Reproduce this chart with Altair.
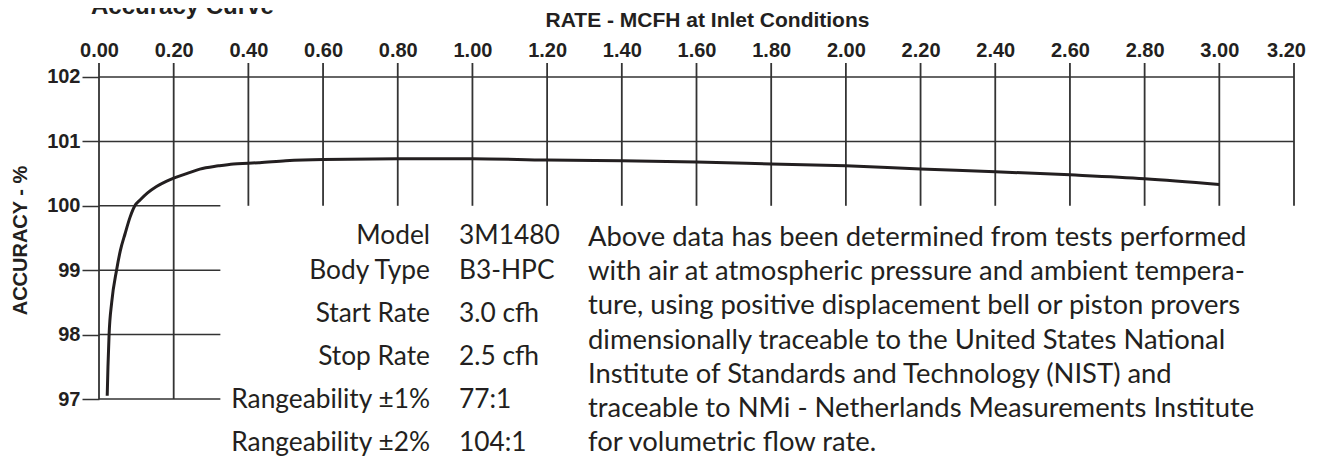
import altair as alt
import pandas as pd

# ---------------- data ----------------
X_TICKS = [0.00, 0.20, 0.40, 0.60, 0.80, 1.00, 1.20, 1.40, 1.60,
           1.80, 2.00, 2.20, 2.40, 2.60, 2.80, 3.00, 3.20]
Y_TICKS = [97, 98, 99, 100, 101, 102]

RATE = [0.022, 0.024, 0.027, 0.034, 0.047, 0.057, 0.070, 0.083, 0.096,
        0.110, 0.130, 0.154, 0.180, 0.200, 0.240, 0.270, 0.320, 0.360,
        0.400, 0.430, 0.500, 0.600, 0.800, 1.000, 1.200, 1.400, 1.600,
        1.800, 2.000, 2.200, 2.400, 2.600, 2.800, 3.000]
ACCURACY = [97.05, 97.50, 98.00, 98.50, 99.00, 99.30, 99.57, 99.82, 100.00,
            100.09, 100.20, 100.30, 100.38, 100.43, 100.51, 100.57, 100.62, 100.65,
            100.66, 100.67, 100.70, 100.72, 100.73, 100.73, 100.71, 100.70, 100.68,
            100.65, 100.62, 100.57, 100.53, 100.48, 100.42, 100.33]

SPEC_LABELS = ["Model", "Body Type", "Start Rate", "Stop Rate",
               "Rangeability ±1%", "Rangeability ±2%"]
SPEC_VALUES = ["3M1480", "B3-HPC", "3.0 cfh", "2.5 cfh", "77:1", "104:1"]
NOTE_LINES = [
    "Above data has been determined from tests performed",
    "with air at atmospheric pressure and ambient tempera-",
    "ture, using positive displacement bell or piston provers",
    "dimensionally traceable to the United States National",
    "Institute of Standards and Technology (NIST) and",
    "traceable to NMi - Netherlands Measurements Institute",
    "for volumetric flow rate.",
]
TITLE = "Accuracy Curve"
X_TITLE = "RATE - MCFH at Inlet Conditions"
Y_TITLE = "ACCURACY - %"

# ---------------- layout / style ----------------
INK = "#231f20"
GRID = "#333333"
BOLD_FONT = "Liberation Sans"
BODY_FONT = "Lato"
W, H = 1195, 336
Y_TOP = 102.217            # grid verticals rise a little above the 102 line
SHORT_X = 0.325            # where the lower horizontal lines stop
SPEC_Y = [173, 208, 251, 294, 337, 380]
NOTE_Y0, NOTE_DY = 175, 34.2
LABEL_RIGHT_X, VALUE_LEFT_X, NOTE_LEFT_X = 331, 360, 489
SPEC_SIZE = 26.3
NOTE_SIZE = 27.4

xscale = alt.Scale(domain=[0, 3.2], nice=False, zero=False)
yscale = alt.Scale(domain=[97, Y_TOP], nice=False, zero=False)

X_AXIS = alt.Axis(orient="top", values=X_TICKS, format=".2f", grid=False,
                  domain=False, ticks=False, labelPadding=3,
                  labelFont=BOLD_FONT, labelFontWeight="bold", labelFontSize=20,
                  labelColor=INK,
                  labelOffset=alt.condition("datum.value > 3.1",
                                            alt.value(-8), alt.value(0)),
                  title=X_TITLE, titleFont=BOLD_FONT,
                  titleFontWeight="bold", titleFontSize=21, titleColor=INK,
                  titleX=608, titleY=-37, titleAlign="center",
                  titleBaseline="alphabetic", labelFlush=False, labelOverlap=False)
Y_AXIS = alt.Axis(orient="left", values=Y_TICKS, format="d", grid=False,
                  domain=False, ticks=True, tickSize=17, tickColor=GRID,
                  tickWidth=1.5, labelPadding=2,
                  labelFont=BOLD_FONT, labelFontWeight="bold", labelFontSize=20,
                  labelColor=INK, title=Y_TITLE, titleFont=BOLD_FONT,
                  titleFontWeight="bold", titleFontSize=20, titleColor=INK,
                  titleX=-79, titleY=177, titleAngle=270, titleAlign="center",
                  titleBaseline="middle", labelFlush=False, labelOverlap=False)

# vertical grid lines (from tick list)
vdf = pd.DataFrame({"v": X_TICKS,
                    "bottom": [97 if t <= 0.2 else 100 for t in X_TICKS]})
vrules = alt.Chart(vdf).mark_rule(color=GRID, strokeWidth=1.8).encode(
    x=alt.X("v:Q", scale=xscale, axis=X_AXIS),
    y=alt.Y("bottom:Q", scale=yscale, axis=Y_AXIS),
    y2=alt.value(0),
)

# horizontal grid lines (from tick list)
hdf = pd.DataFrame({"v": Y_TICKS,
                    "xend": [3.2 if t >= 101 else SHORT_X for t in Y_TICKS]})
hrules = alt.Chart(hdf).mark_rule(color=GRID, strokeWidth=1.5).encode(
    y=alt.Y("v:Q", scale=yscale, axis=Y_AXIS),
    x=alt.X("xend:Q", scale=xscale, axis=X_AXIS),
    x2=alt.value(0),
)

curve = alt.Chart(pd.DataFrame({"rate": RATE, "acc": ACCURACY})).mark_line(
    color=INK, strokeWidth=3, interpolate="monotone"
).encode(
    x=alt.X("rate:Q", scale=xscale, axis=X_AXIS),
    y=alt.Y("acc:Q", scale=yscale, axis=Y_AXIS),
    order="rate:Q",
)


def text_layer(s, x, y, align="left", size=SPEC_SIZE, font=BODY_FONT,
               weight="normal", baseline="middle"):
    return alt.Chart(pd.DataFrame({"t": [s]})).mark_text(
        align=align, baseline=baseline, font=font, fontSize=size,
        fontWeight=weight, color=INK
    ).encode(text="t:N", x=alt.value(x), y=alt.value(y))


layers = [vrules, hrules, curve,
          text_layer(TITLE, -8, -49, size=24, font=BOLD_FONT,
                     weight="bold", baseline="alphabetic")]
for i, (lab, val) in enumerate(zip(SPEC_LABELS, SPEC_VALUES)):
    layers.append(text_layer(lab, LABEL_RIGHT_X, SPEC_Y[i], align="right"))
    layers.append(text_layer(val, VALUE_LEFT_X, SPEC_Y[i]))
for i, line in enumerate(NOTE_LINES):
    layers.append(text_layer(line, NOTE_LEFT_X, NOTE_Y0 + NOTE_DY * i,
                             size=NOTE_SIZE))

chart = alt.layer(*layers).properties(
    width=W, height=H,
    padding={"left": 91, "top": 55, "right": 18, "bottom": 61},
    autosize=alt.AutoSizeParams(type="none"),
    background="white",
).configure_view(strokeWidth=0)

chart.save("out.html", embed_options={"renderer": "svg", "actions": False})
